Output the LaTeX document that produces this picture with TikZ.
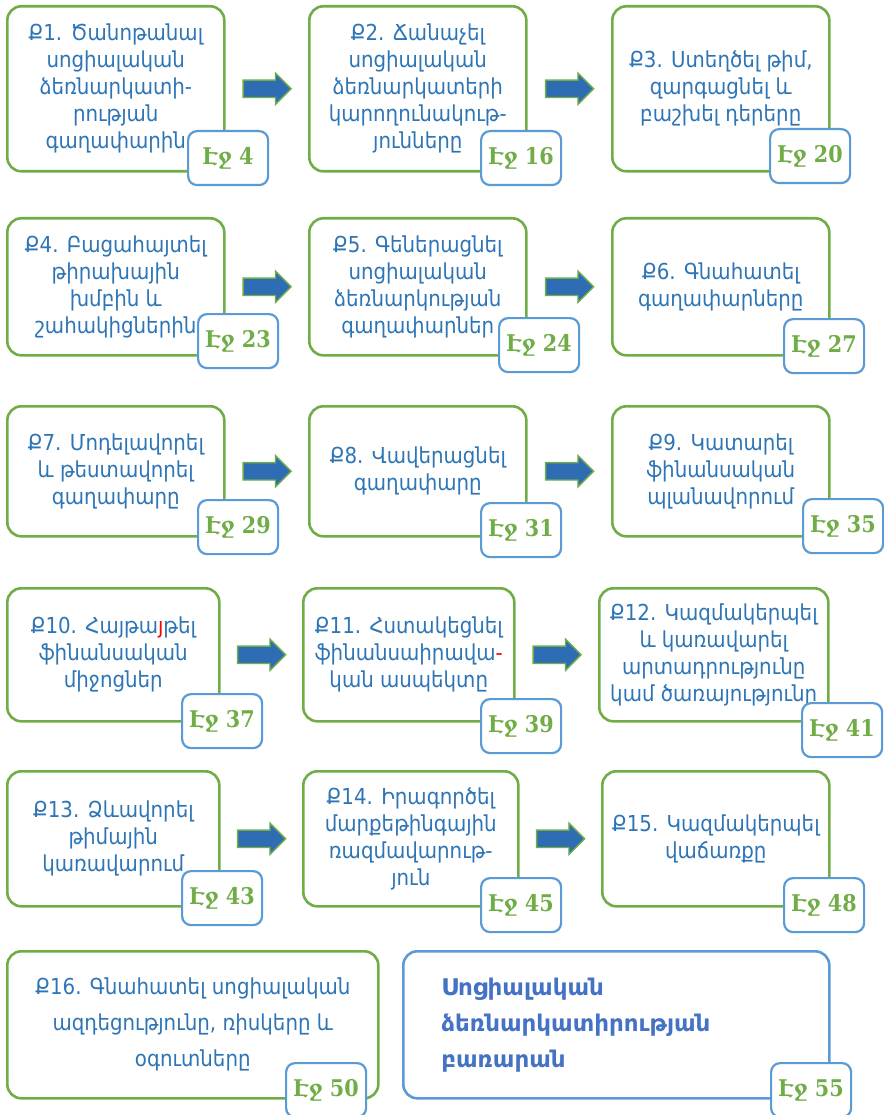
\documentclass[tikz,border=0pt]{standalone}
\usepackage{fontspec}
\usetikzlibrary{shapes.arrows,calc}
\newfontfamily\armfont{DejaVu Sans Condensed}
\newfontfamily\glossfont{DejaVu Sans}
\newfontfamily\pagefont{DejaVu Serif Condensed}
\definecolor{qgreen}{HTML}{70AD47}
\definecolor{pblue}{HTML}{5B9BD5}
\definecolor{qblue}{HTML}{2E75B6}
\definecolor{ablue}{HTML}{2E6DB4}
\definecolor{gblue}{HTML}{4472C4}
\begin{document}
\begin{tikzpicture}[x=1pt, y=-1pt,
    qbox/.style={draw=qgreen, line width=2.6pt, rounded corners=14pt, fill=white, text=qblue, align=center, anchor=north west, inner sep=0pt, font=\armfont\fontsize{22}{27}\selectfont},
    page/.style={draw=pblue, line width=2.2pt, rounded corners=9pt, fill=white, text=qgreen, anchor=north west, minimum width=80pt, minimum height=54pt, inner sep=0pt, font=\pagefont\bfseries\fontsize{23}{23}\selectfont},
    blockarrow/.style={single arrow, draw=qgreen, line width=1.4pt, fill=ablue, minimum height=48pt, single arrow head extend=7pt, inner xsep=0pt, inner ysep=8pt, xshift=-4pt}
]
\useasboundingbox (0,0) rectangle (883,1115);
\fill[white] (0,0) rectangle (883,1115);

\node[qbox, minimum width=217pt, minimum height=165pt] (q1) at (6,5) {Ք1. Ծանոթանալ\\սոցիալական\\ձեռնարկատի-\\րության\\գաղափարին};
\node[qbox, minimum width=217pt, minimum height=165pt] (q2) at (308,5) {Ք2. Ճանաչել\\սոցիալական\\ձեռնարկատերի\\կարողունակութ-\\յունները};
\node[qbox, minimum width=217pt, minimum height=165pt] (q3) at (611,5) {Ք3. Ստեղծել թիմ,\\զարգացնել և\\բաշխել դերերը};

\node[qbox, minimum width=217pt, minimum height=137pt] (q4) at (6,217) {Ք4. Բացահայտել\\թիրախային\\խմբին և\\շահակիցներին};
\node[qbox, minimum width=217pt, minimum height=137pt] (q5) at (308,217) {Ք5. Գեներացնել\\սոցիալական\\ձեռնարկության\\գաղափարներ};
\node[qbox, minimum width=217pt, minimum height=137pt] (q6) at (611,217) {Ք6. Գնահատել\\գաղափարները};

\node[qbox, minimum width=217pt, minimum height=130pt] (q7) at (6,405) {Ք7. Մոդելավորել\\և թեստավորել\\գաղափարը};
\node[qbox, minimum width=217pt, minimum height=130pt] (q8) at (308,405) {Ք8. Վավերացնել\\գաղափարը};
\node[qbox, minimum width=217pt, minimum height=130pt] (q9) at (611,405) {Ք9. Կատարել\\ֆինանսական\\պլանավորում};

\node[qbox, minimum width=212pt, minimum height=133pt] (q10) at (6,587) {Ք10. Հայթա{\color{red}յ}թել\\ֆինանսական\\միջոցներ};
\node[qbox, minimum width=211pt, minimum height=133pt] (q11) at (302,587) {Ք11. Հստակեցնել\\ֆինանսաիրավա{\color{red}-}\\կան ասպեկտը};
\node[qbox, minimum width=229pt, minimum height=133pt] (q12) at (598,587) {Ք12. Կազմակերպել\\և կառավարել\\արտադրությունը\\կամ ծառայությունը};

\node[qbox, minimum width=212pt, minimum height=135pt] (q13) at (6,770) {Ք13. Ձևավորել\\թիմային\\կառավարում};
\node[qbox, minimum width=215pt, minimum height=135pt] (q14) at (302,770) {Ք14. Իրագործել\\մարքեթինգային\\ռազմավարութ-\\յուն};
\node[qbox, minimum width=227pt, minimum height=135pt] (q15) at (601,770) {Ք15. Կազմակերպել\\վաճառքը};

\node[qbox, minimum width=371pt, minimum height=147pt, font=\armfont\fontsize{22}{36}\selectfont] (q16) at (6,950) {Ք16. Գնահատել սոցիալական\\ազդեցությունը, ռիսկերը և\\օգուտները};
\node[qbox, draw=pblue, text=gblue, align=left, text width=350pt, inner xsep=38pt, minimum height=147pt, font=\glossfont\bfseries\fontsize{23}{36}\selectfont] (gloss) at (402,950) {Սոցիալական\\ձեռնարկատիրության\\բառարան};

\node[page] (p1) at (187,130) {Էջ 4};
\node[page] (p2) at (480,130) {Էջ 16};
\node[page] (p3) at (769,128) {Էջ 20};
\node[page] (p4) at (197,313) {Էջ 23};
\node[page] (p5) at (498,317) {Էջ 24};
\node[page] (p6) at (783,318) {Էջ 27};
\node[page] (p7) at (197,499) {Էջ 29};
\node[page] (p8) at (480,502) {Էջ 31};
\node[page] (p9) at (802,498) {Էջ 35};
\node[page] (p10) at (181,693) {Էջ 37};
\node[page] (p11) at (480,698) {Էջ 39};
\node[page] (p12) at (801,702) {Էջ 41};
\node[page] (p13) at (181,870) {Էջ 43};
\node[page] (p14) at (480,877) {Էջ 45};
\node[page] (p15) at (783,877) {Էջ 48};
\node[page] (p16) at (285,1062) {Էջ 50};
\node[page] (p17) at (770,1062) {Էջ 55};

\node[blockarrow] (a1) at ($(q1.east)!0.5!(q2.west)$) {};
\node[blockarrow] (a2) at ($(q2.east)!0.5!(q3.west)$) {};
\node[blockarrow] (a3) at ($(q4.east)!0.5!(q5.west)$) {};
\node[blockarrow] (a4) at ($(q5.east)!0.5!(q6.west)$) {};
\node[blockarrow] (a5) at ($(q7.east)!0.5!(q8.west)$) {};
\node[blockarrow] (a6) at ($(q8.east)!0.5!(q9.west)$) {};
\node[blockarrow] (a7) at ($(q10.east)!0.5!(q11.west)$) {};
\node[blockarrow] (a8) at ($(q11.east)!0.5!(q12.west)$) {};
\node[blockarrow] (a9) at ($(q13.east)!0.5!(q14.west)$) {};
\node[blockarrow] (a10) at ($(q14.east)!0.5!(q15.west)$) {};
\end{tikzpicture}
\end{document}
